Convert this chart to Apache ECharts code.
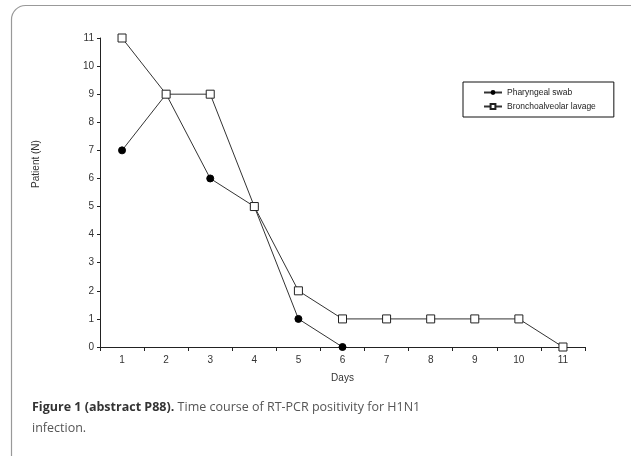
<!DOCTYPE html>
<html><head><meta charset="utf-8">
<script src="https://cdn.jsdelivr.net/npm/echarts@6/dist/echarts.min.js"></script>
<style>html,body{margin:0;padding:0;background:#fff}#c{width:631px;height:456px}</style>
</head><body><div id="c"></div>
<script>
const days = ['1','2','3','4','5','6','7','8','9','10','11'];
const pharyngealSwab = [7, 9, 6, 5, 1, 0];
const bronchoLavage = [11, 9, 9, 5, 2, 1, 1, 1, 1, 1, 0];
const yTicks = [0,1,2,3,4,5,6,7,8,9,10,11];
const seriesNames = ['Pharyngeal swab', 'Bronchoalveolar lavage'];

const chart = echarts.init(document.getElementById('c'), null, {renderer:'canvas'});
const axisFont = {fontFamily:'Liberation Sans', fontSize:10, color:'#333'};
chart.setOption({
  animation:false,
  backgroundColor:'#fff',
  grid:{left:100, right:46, top:38, bottom:109, containLabel:false},
  xAxis:{
    type:'category', data:days, boundaryGap:true,
    name:'Days', nameLocation:'middle', nameGap:26,
    nameTextStyle:{fontFamily:'Liberation Sans', fontSize:10, color:'#333'},
    axisLine:{lineStyle:{color:'#222', width:1}},
    axisTick:{show:true, length:4, lineStyle:{color:'#222'}},
    axisLabel:Object.assign({margin:8}, axisFont),
    splitLine:{show:false}
  },
  yAxis:{
    type:'value', min:0, max:11, interval:1,
    axisLine:{show:true, lineStyle:{color:'#222', width:1}},
    axisTick:{show:true, length:3, lineStyle:{color:'#222'}},
    axisLabel:Object.assign({margin:6}, axisFont),
    splitLine:{show:false}
  },
  legend:{
    orient:'vertical', left:463, top:82,
    padding:[6,18,6,20], itemGap:5,
    itemWidth:18, itemHeight:6,
    borderColor:'#111', borderWidth:1,
    textStyle:{fontFamily:'Liberation Sans', fontSize:8.5, color:'#222'},
    data:seriesNames
  },
  series:[
    {name:seriesNames[0], type:'line', data:pharyngealSwab,
     symbol:'circle', symbolSize:7,
     itemStyle:{color:'#000', borderColor:'#000'},
     lineStyle:{color:'#333', width:1}, z:2},
    {name:seriesNames[1], type:'line', data:bronchoLavage,
     symbol:'rect', symbolSize:8,
     itemStyle:{color:'#fff', borderColor:'#222', borderWidth:1},
     lineStyle:{color:'#333', width:1}, z:3}
  ],
  graphic:[
    {type:'rect', shape:{x:11.5, y:5.5, width:640, height:470, r:14},
     style:{fill:null, stroke:'#999', lineWidth:1.2}, silent:true, z:-1},
    {type:'text', x:36, y:164, rotation:Math.PI/2, style:{text:'Patient (N)', fontFamily:'Liberation Sans', fontSize:10, fill:'#333', align:'center', verticalAlign:'middle'}},
    {type:'text', x:32, y:407, style:{
      text:'{b|Figure 1 (abstract P88).} {n|Time course of RT-PCR positivity for H1N1}',
      verticalAlign:'middle',
      rich:{b:{fontFamily:'Open Sans', fontWeight:'bold', fontSize:12.5, fill:'#333'},
            n:{fontFamily:'Open Sans', fontSize:12.5, fill:'#555'}}}},
    {type:'text', x:32, y:428, style:{text:'infection.', verticalAlign:'middle', fontFamily:'Open Sans', fontSize:12.5, fill:'#555'}}
  ]
});
</script></body></html>
